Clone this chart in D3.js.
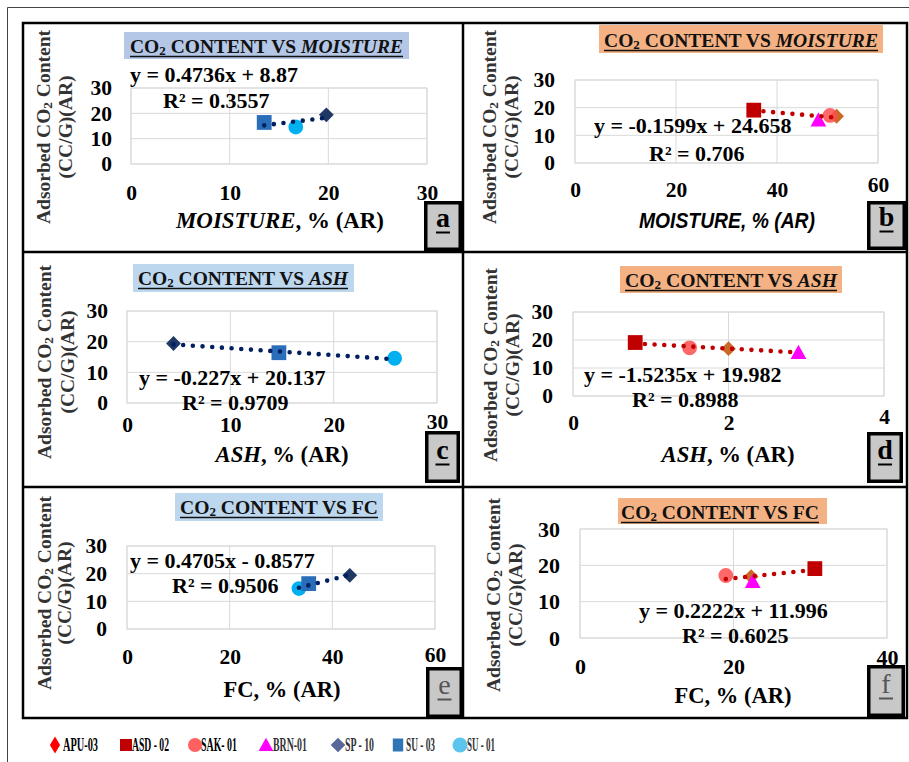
<!DOCTYPE html>
<html><head><meta charset="utf-8">
<script src="https://cdn.jsdelivr.net/npm/d3@7"></script>
<style>body{margin:0;background:#fff}svg{display:block}</style>
</head><body><svg id="c" width="909" height="762"></svg>
<script>
// ---------- DATA ----------
const samples = ["APU-03","ASD-02","SAK-01","BRN-01","SP-10","SU-03","SU-01"];
const legendLabels = ["APU-03","ASD - 02","SAK- 01","BRN-01","SP - 10","SU - 03","SU - 01"];
const co2 = [16.9, 19.1, 17.2, 15.5, 19.4, 16.4, 14.6];
const moisture = [51.8, 35.4, 50.5, 48.2, 19.8, 13.5, 16.7];
const ash = [2.0, 0.8, 1.5, 2.9, 4.5, 14.7, 25.9];
const fc = [22.3, 30.6, 19.0, 22.5, 43.4, 35.4, 33.5];
const groupLeft = ["SP-10","SU-01","SU-03"];
const groupRight = ["APU-03","ASD-02","SAK-01","BRN-01"];
const panelLetters = ["a","b","c","d","e","f"];
const propNames = ["MOISTURE","MOISTURE","ASH","ASH","FC","FC"];
const xMax = [30, 60, 30, 4, 60, 40];
const xStep = [10, 20, 10, 2, 20, 20];
const yTicks = [0, 10, 20, 30];
const slopes = [0.4736, -0.1599, -0.227, -1.5235, 0.4705, 0.2222];
const intercepts = [8.87, 24.658, 20.137, 19.982, -0.8577, 11.996];
const eqLabels = ["y = 0.4736x + 8.87","y = -0.1599x + 24.658","y = -0.227x + 20.137","y = -1.5235x + 19.982","y = 0.4705x - 0.8577","y = 0.2222x + 11.996"];
const r2Labels = ["R² = 0.3557","R² = 0.706","R² = 0.9709","R² = 0.8988","R² = 0.9506","R² = 0.6025"];

// ---------- STYLE / LAYOUT ----------
const chartStyle = {
  "SP-10": {shape:"diamond", fill:"#1f3864", op:1},
  "SU-03": {shape:"square", fill:"#2a6db8", op:1},
  "SU-01": {shape:"circle", fill:"#00b0f0", op:1},
  "APU-03": {shape:"diamond", fill:"#c55a11", op:0.9},
  "ASD-02": {shape:"square", fill:"#c00000", op:1},
  "SAK-01": {shape:"circle", fill:"#ff4d4d", op:0.85},
  "BRN-01": {shape:"triangle", fill:"#ff00ff", op:1}
};
const legendStyle = [
  {shape:"tdiamond", fill:"#ff0000", s:7.3},
  {shape:"square", fill:"#c00000", s:6},
  {shape:"circle", fill:"#ff6161", s:7},
  {shape:"triangle", fill:"#ff00ff", s:7},
  {shape:"diamond", fill:"#56689a", s:7.3},
  {shape:"tsquare", fill:"#2e75b6", s:6.5},
  {shape:"circle", fill:"#5bc5ee", s:7.5}
];
const legendX = [55, 126, 195, 266, 338, 398, 460];
const legendTextX = [63, 132, 201, 273, 345, 406, 467];
const legendTextW = [35, 37, 36, 34, 29, 29, 28];

const layout = [
  {x0:131,x1:427,y0:88,y1:164, xlabY:193, raise:0, yRight:112,
   title:[124,32,409,59,130,403,53], tfill:"#b4c7e7",
   yl:[43,65,127], eq:[130,82], r2:[163,108], at:[280,228,208], box:[424,201,462,251]},
  {x0:575,x1:878,y0:80,y1:163, xlabY:190, raise:5, yRight:555,
   title:[599,25,883,53,604,878,47], tfill:"#f4b183",
   yl:[489,511,127], eq:[594,133], r2:[649,161], at:[727,228,176], box:[867,201,906,250]},
  {x0:127,x1:437,y0:311,y1:403, xlabY:425, raise:3, yRight:108,
   title:[133,264,354,292,138,348,285], tfill:"#bdd7ee",
   yl:[44,67,362], eq:[139,385], r2:[182,410], at:[282,462,133], box:[425,431,460,483]},
  {x0:573,x1:884,y0:312,y1:396, xlabY:423, raise:6, yRight:553,
   title:[620,266,842,293,625,837,287], tfill:"#f4b183",
   yl:[490,512,365], eq:[584,382], r2:[632,407], at:[728,462,133], box:[867,432,903,483]},
  {x0:127,x1:435,y0:546,y1:629, xlabY:657, raise:2, yRight:107,
   title:[175,493,383,521,180,378,514], tfill:"#bdd7ee",
   yl:[44,64,593], eq:[130,568], r2:[172,593], at:[282,697,117], box:[426,667,463,718]},
  {x0:580,x1:887,y0:529,y1:638, xlabY:667, raise:9, yRight:560,
   title:[618,498,827,524,621,819,519], tfill:"#f4b183",
   yl:[493,515,595], eq:[639,618], r2:[682,643], at:[733,703,117], box:[867,665,905,717]}
];

const SERIF = "'Liberation Serif','Times New Roman',serif";
const SANS = "'Liberation Sans',Arial,sans-serif";
const svg = d3.select("#c");
svg.append("rect").attr("width",909).attr("height",762).attr("fill","#fff");

function markerPath(shape, s) {
  switch(shape) {
    case "diamond": return `M0,${-s}L${s},0L0,${s}L${-s},0Z`;
    case "tdiamond": return `M0,${-s*1.15}L${s*0.7},0L0,${s*1.15}L${-s*0.7},0Z`;
    case "square": return `M${-s},${-s}H${s}V${s}H${-s}Z`;
    case "tsquare": return `M${-s*0.8},${-s}H${s*0.8}V${s}H${-s*0.8}Z`;
    case "triangle": return `M0,${-s*1.05}L${s*1.05},${s*0.85}L${-s*1.05},${s*0.85}Z`;
    case "circle": return d3.arc()({innerRadius:0,outerRadius:s,startAngle:0,endAngle:2*Math.PI});
  }
}

const propArrays = [moisture, moisture, ash, ash, fc, fc];

layout.forEach((L, i) => {
  const g = svg.append("g");
  const x = d3.scaleLinear().domain([0, xMax[i]]).range([L.x0, L.x1]);
  const y = d3.scaleLinear().domain([0, 30]).range([L.y1, L.y0]);
  const xt = d3.range(0, xMax[i] + 0.001, xStep[i]);

  // title box
  const T = L.title;
  g.append("rect").attr("x",T[0]).attr("y",T[1]).attr("width",T[2]-T[0]).attr("height",T[3]-T[1]).attr("fill",L.tfill);
  const tt = g.append("text").attr("x",T[4]).attr("y",T[6]).attr("font-family",SERIF).attr("font-weight","bold")
    .attr("font-size",19.5).attr("fill","#111").attr("textLength",T[5]-T[4]).attr("lengthAdjust","spacingAndGlyphs");
  tt.append("tspan").text("CO");
  tt.append("tspan").attr("font-size",13).attr("dy",2).text("2");
  tt.append("tspan").attr("dy",-2).text(" CONTENT VS ");
  tt.append("tspan").attr("font-style", i<4 ? "italic" : "normal").text(propNames[i]);
  g.append("line").attr("x1",T[4]).attr("x2",T[5]).attr("y1",T[6]+3.5).attr("y2",T[6]+3.5).attr("stroke","#111").attr("stroke-width",1.4);

  // grid
  g.selectAll(".vg").data(xt).join("line").attr("x1",d=>x(d)).attr("x2",d=>x(d)).attr("y1",L.y0).attr("y2",L.y1)
    .attr("stroke","#d9d9d9").attr("stroke-width",1);
  g.selectAll(".hg").data(yTicks).join("line").attr("x1",L.x0).attr("x2",L.x1).attr("y1",d=>y(d)).attr("y2",d=>y(d))
    .attr("stroke","#d9d9d9").attr("stroke-width",1);
  g.append("rect").attr("x",L.x0).attr("y",L.y0).attr("width",L.x1-L.x0).attr("height",L.y1-L.y0)
    .attr("fill","none").attr("stroke","#d9d9d9");

  // axes
  const fs = i===5 ? 22 : 21.5;
  const ax = g.append("g").attr("transform",`translate(0,${L.y1})`)
    .call(d3.axisBottom(x).tickValues(xt).tickSize(0).tickPadding(L.xlabY - L.y1 - fs*0.372).tickFormat(d3.format("d")));
  ax.select(".domain").remove();
  ax.selectAll("text").attr("font-family",SERIF).attr("font-weight","bold").attr("font-size",fs).attr("fill","#000");
  ax.selectAll(".tick").filter((d,k,n)=>k===n.length-1).select("text").attr("transform",`translate(0,${-L.raise})`);
  const ay = g.append("g").attr("transform",`translate(${L.x0},0)`)
    .call(d3.axisLeft(y).tickValues(yTicks).tickSize(0).tickPadding(L.x0 - L.yRight).tickFormat(d3.format("d")));
  ay.select(".domain").remove();
  ay.selectAll("text").attr("font-family",SERIF).attr("font-weight","bold").attr("font-size",fs).attr("fill","#000");

  // y label
  const yl = L.yl;
  const l1 = g.append("text").attr("transform",`translate(${yl[0]},${yl[2]}) rotate(-90)`).attr("text-anchor","middle")
    .attr("dy","0.35em").attr("font-family",SERIF).attr("font-weight","bold").attr("font-size",19).attr("fill","#333")
    .attr("textLength",194).attr("lengthAdjust","spacingAndGlyphs");
  l1.append("tspan").text("Adsorbed CO");
  l1.append("tspan").attr("font-size",13).attr("dy",2).text("2");
  l1.append("tspan").attr("dy",-2).text(" Content");
  g.append("text").attr("transform",`translate(${yl[1]},${yl[2]}) rotate(-90)`).attr("text-anchor","middle")
    .attr("dy","0.35em").attr("font-family",SERIF).attr("font-weight","bold").attr("font-size",19).attr("fill","#333")
    .attr("textLength",103).attr("lengthAdjust","spacingAndGlyphs").text("(CC/G)(AR)");

  // x axis title
  const at = g.append("text").attr("x",L.at[0]).attr("y",L.at[1]).attr("text-anchor","middle").attr("font-weight","bold")
    .attr("font-size",i===1?22:23).attr("fill","#000").attr("font-family", i===1 ? SANS : SERIF)
    .attr("textLength",L.at[2]).attr("lengthAdjust","spacingAndGlyphs");
  if (i===1) { at.attr("font-style","italic").text(propNames[i] + ", % (AR)"); }
  else {
    at.append("tspan").attr("font-style", i<4 ? "italic":"normal").text(propNames[i]);
    at.append("tspan").text(", % (AR)");
  }

  // data
  const group = (i % 2 === 0) ? groupLeft : groupRight;
  const vals = propArrays[i];
  const pts = group.map(n => { const k = samples.indexOf(n); return {name:n, xv:vals[k], yv:co2[k]}; });
  g.selectAll(".m").data(pts).join("path")
    .attr("transform",d=>`translate(${x(d.xv)},${y(d.yv)})`)
    .attr("d",d=>markerPath(chartStyle[d.name].shape, d.name==="BRN-01"?7.5:7.4))
    .attr("fill",d=>chartStyle[d.name].fill).attr("fill-opacity",d=>chartStyle[d.name].op);

  // trendline
  const xs = d3.extent(pts, d=>d.xv);
  g.append("line").attr("x1",x(xs[0])).attr("x2",x(xs[1]))
    .attr("y1",y(slopes[i]*xs[0]+intercepts[i])).attr("y2",y(slopes[i]*xs[1]+intercepts[i]))
    .attr("stroke", i%2===0 ? "#002060" : "#c00000").attr("stroke-width",4.6)
    .attr("stroke-linecap","round").attr("stroke-dasharray","0 9.7");

  // equation
  g.append("text").attr("x",L.eq[0]).attr("y",L.eq[1]).attr("font-family",SERIF).attr("font-weight","bold")
    .attr("font-size",22).attr("fill","#000").text(eqLabels[i]);
  g.append("text").attr("x",L.r2[0]).attr("y",L.r2[1]).attr("font-family",SERIF).attr("font-weight","bold")
    .attr("font-size",22).attr("fill","#000").text(r2Labels[i]);

  // panel letter box
  const B = L.box, sw = 3.5;
  g.append("rect").attr("x",B[0]+sw/2).attr("y",B[1]+sw/2).attr("width",B[2]-B[0]-sw).attr("height",B[3]-B[1]-sw)
    .attr("fill","#c8c8c8").attr("stroke","#000").attr("stroke-width",sw);
  const cx = (B[0]+B[2])/2;
  g.append("text").attr("x",cx).attr("y",B[3]-24).attr("text-anchor","middle").attr("font-family",SERIF)
    .attr("font-weight", i<4 ? "bold":"normal").attr("font-size",28).attr("fill", i<4 ? "#000":"#555").text(panelLetters[i]);
  g.append("line").attr("x1",cx-7).attr("x2",cx+7).attr("y1",B[3]-18.5).attr("y2",B[3]-18.5)
    .attr("stroke", i<4 ? "#000":"#555").attr("stroke-width",2);
});

// frames
svg.append("path").attr("d","M7.5,762V7.5H909").attr("fill","none").attr("stroke","#444").attr("stroke-width",1);
svg.append("rect").attr("x",23).attr("y",23).attr("width",884).attr("height",695).attr("fill","none").attr("stroke","#000").attr("stroke-width",2.5);
svg.append("line").attr("x1",463).attr("x2",463).attr("y1",23).attr("y2",718).attr("stroke","#000").attr("stroke-width",2.5);
svg.append("line").attr("x1",23).attr("x2",907).attr("y1",252).attr("y2",252).attr("stroke","#000").attr("stroke-width",2.5);
svg.append("line").attr("x1",23).attr("x2",907).attr("y1",487).attr("y2",487).attr("stroke","#000").attr("stroke-width",2.5);

// legend (text condensed horizontally with a scale transform)
const lg = svg.append("g");
samples.forEach((s, k) => {
  lg.append("path").attr("transform",`translate(${legendX[k]},745)`).attr("d",markerPath(legendStyle[k].shape,legendStyle[k].s))
    .attr("fill",legendStyle[k].fill);
  const tg = lg.append("g");
  const t = tg.append("text").attr("x",0).attr("y",0).attr("font-family",SERIF).attr("font-weight","bold")
    .attr("font-size",18).attr("fill", k<3 ? "#000" : "#333").text(legendLabels[k]);
  const w = t.node().getComputedTextLength() || legendTextW[k];
  tg.attr("transform",`translate(${legendTextX[k]},751) scale(${legendTextW[k]/w},1)`);
});
</script></body></html>
